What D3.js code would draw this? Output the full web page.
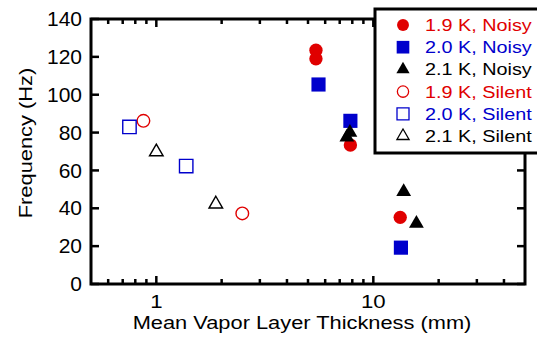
<!DOCTYPE html>
<html>
<head>
<meta charset="utf-8">
<script src="https://cdn.jsdelivr.net/npm/d3@7"></script>
<style>
  body { margin: 0; background: #fff; }
  svg { display: block; font-family: "Liberation Sans", Arial, sans-serif; }
</style>
</head>
<body>
<div id="chart"></div>
<script>
// data
const noisy19x = [5.44, 5.44, 7.84, 13.3]
const noisy19y = [123.5, 119, 73.4, 35.2]
const noisy20x = [5.59, 7.84, 13.4]
const noisy20y = [105.4, 86.2, 19.2]
const noisy21x = [7.55, 7.8, 13.8, 15.8]
const noisy21y = [77.5, 80, 48.7, 32]
const silent19x = [0.872, 2.49]
const silent19y = [86.2, 37.3]
const silent20x = [0.752, 1.373]
const silent20y = [83, 62.3]
const silent21x = [1.0, 1.88]
const silent21y = [69.8, 42.2]

const yTicks = [0, 20, 40, 60, 80, 100, 120, 140]
const xMajor = [1, 10]
const xMinor = [0.6, 0.7, 0.8, 0.9, 2, 3, 4, 5, 6, 7, 8, 9, 20, 30, 40]
const legendLabels = ["1.9 K, Noisy", "2.0 K, Noisy", "2.1 K, Noisy", "1.9 K, Silent", "2.0 K, Silent", "2.1 K, Silent"]

const RED = "#e00000", BLUE = "#0000cc", BLACK = "#000"

const width = 537, height = 340
const mLeft = 91, mRight = 525, mTop = 19, mBottom = 284

const x = d3.scaleLog().domain([0.5, 50]).range([mLeft, mRight])
const y = d3.scaleLinear().domain([0, 140]).range([mBottom, mTop])

const svg = d3.select("#chart").append("svg")
    .attr("width", width).attr("height", height)

// ticks (inward, all four sides)
const tk = svg.append("g").attr("stroke", "#000").attr("stroke-width", 2.5)
xMajor.forEach(v => {
  tk.append("line").attr("x1", x(v)).attr("x2", x(v)).attr("y1", mBottom).attr("y2", mBottom - 8)
  tk.append("line").attr("x1", x(v)).attr("x2", x(v)).attr("y1", mTop).attr("y2", mTop + 8)
})
xMinor.forEach(v => {
  tk.append("line").attr("x1", x(v)).attr("x2", x(v)).attr("y1", mBottom).attr("y2", mBottom - 5)
  tk.append("line").attr("x1", x(v)).attr("x2", x(v)).attr("y1", mTop).attr("y2", mTop + 5)
})
yTicks.forEach(v => {
  tk.append("line").attr("x1", mLeft).attr("x2", mLeft + 8).attr("y1", y(v)).attr("y2", y(v))
  tk.append("line").attr("x1", mRight).attr("x2", mRight - 8).attr("y1", y(v)).attr("y2", y(v))
})

// frame
svg.append("rect")
    .attr("x", mLeft).attr("y", mTop)
    .attr("width", mRight - mLeft).attr("height", mBottom - mTop)
    .attr("fill", "none").attr("stroke", "#000").attr("stroke-width", 3)

// tick labels (the original font runs a bit wide, hence the x stretch)
svg.append("g").selectAll("text").data(yTicks).join("text")
    .attr("transform", d => `translate(${mLeft - 9},${y(d)}) scale(1.05,1)`)
    .attr("dy", "0.36em")
    .attr("text-anchor", "end")
    .attr("font-size", 20)
    .text(d => d)

svg.append("g").selectAll("text").data(xMajor).join("text")
    .attr("transform", d => `translate(${x(d)},307.5) scale(1.2,1)`)
    .attr("text-anchor", "middle")
    .attr("font-size", 18.5)
    .text(d => d)

// axis titles
svg.append("text")
    .attr("transform", "translate(302,328.5) scale(1.18,1)")
    .attr("text-anchor", "middle")
    .attr("font-size", 18.5)
    .text("Mean Vapor Layer Thickness (mm)")

svg.append("text")
    .attr("transform", "translate(32,143) rotate(-90) scale(1.15,1)")
    .attr("text-anchor", "middle")
    .attr("font-size", 19)
    .text("Frequency (Hz)")

const series = [
  {xs: silent19x, ys: silent19y, type: d3.symbolCircle, size: 125, color: RED, filled: false},
  {xs: silent20x, ys: silent20y, type: d3.symbolSquare, size: 180, color: BLUE, filled: false},
  {xs: silent21x, ys: silent21y, type: d3.symbolTriangle, size: 80, color: BLACK, filled: false},
  {xs: noisy19x, ys: noisy19y, type: d3.symbolCircle, size: 140, color: RED, filled: true},
  {xs: noisy20x, ys: noisy20y, type: d3.symbolSquare, size: 200, color: BLUE, filled: true},
  {xs: noisy21x, ys: noisy21y, type: d3.symbolTriangle, size: 95, color: BLACK, filled: true}
]

series.forEach(s => {
  const pts = s.xs.map((v, i) => [v, s.ys[i]])
  svg.append("g").selectAll("path").data(pts).join("path")
      .attr("transform", d => `translate(${x(d[0])},${y(d[1])})`)
      .attr("d", d3.symbol().type(s.type).size(s.size))
      .attr("fill", s.filled ? s.color : "none")
      .attr("stroke", s.filled ? "none" : s.color)
      .attr("stroke-width", 1.4)
})

// legend
const legendSeries = [series[3], series[4], series[5], series[0], series[1], series[2]]
svg.append("rect")
    .attr("x", 375).attr("y", 9).attr("width", 175).attr("height", 144)
    .attr("fill", "#fff").attr("stroke", "#000").attr("stroke-width", 3)

const lg = svg.append("g").selectAll("g").data(legendSeries).join("g")
    .attr("transform", (d, i) => `translate(403,${25 + i * 22.2})`)
lg.append("path")
    .attr("d", d => d3.symbol().type(d.type).size(d.size * 0.8)())
    .attr("fill", d => d.filled ? d.color : "none")
    .attr("stroke", d => d.filled ? "none" : d.color)
    .attr("stroke-width", 1.3)
lg.append("text")
    .attr("transform", "translate(22,0) scale(1.2,1)")
    .attr("dy", "0.36em")
    .attr("font-size", 16.5)
    .attr("fill", d => d.color)
    .text((d, i) => legendLabels[i])
</script>
</body>
</html>
